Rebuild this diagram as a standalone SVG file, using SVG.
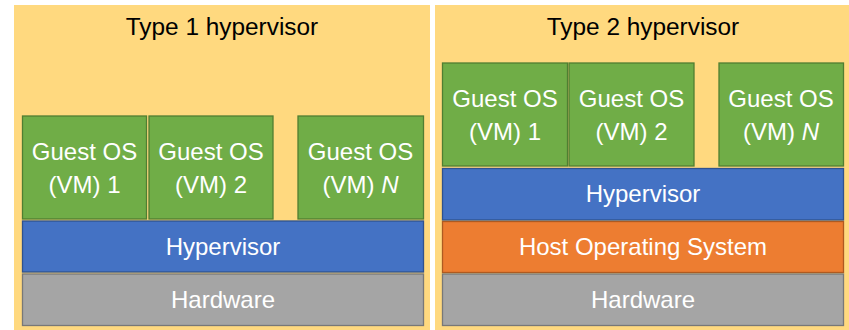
<svg xmlns="http://www.w3.org/2000/svg" width="849" height="330" viewBox="0 0 849 330">
  <style>
    text { font-family: "Liberation Sans", Arial, sans-serif; text-anchor: middle; }
    .title { font-size: 24.4px; fill: #000; }
    .lbl { font-size: 24px; fill: #fff; }
    .panel { fill: #FFD97F; }
    .guest { fill: #70AD47; stroke: #507E32; stroke-width: 1.3; }
    .hyp { fill: #4472C4; stroke: #2F528F; stroke-width: 1.3; }
    .host { fill: #ED7D31; stroke: #AE5A21; stroke-width: 1.3; }
    .hw { fill: #A5A5A5; stroke: #787878; stroke-width: 1.3; }
  </style>
  <rect width="849" height="330" fill="#fff"/>

  <!-- Type 1 panel -->
  <g id="type1">
    <rect class="panel" x="14" y="5" width="416" height="325"/>
    <text class="title" x="222" y="35">Type 1 hypervisor</text>
  </g>
  <g id="t1-guest1">
    <rect class="guest" x="22.5" y="116" width="124" height="103"/>
    <text class="lbl" x="84.5" y="160">Guest OS</text>
    <text class="lbl" x="84.5" y="193">(VM) 1</text>
  </g>
  <g id="t1-guest2">
    <rect class="guest" x="149" y="116" width="124" height="103"/>
    <text class="lbl" x="211" y="160">Guest OS</text>
    <text class="lbl" x="211" y="193">(VM) 2</text>
  </g>
  <g id="t1-guestN">
    <rect class="guest" x="298" y="116" width="125.5" height="103"/>
    <text class="lbl" x="360.5" y="160">Guest OS</text>
    <text class="lbl" x="360.5" y="193">(VM) <tspan font-style="italic">N</tspan></text>
  </g>
  <g id="t1-hypervisor">
    <rect class="hyp" x="22.5" y="221" width="401" height="51"/>
    <text class="lbl" x="223" y="255">Hypervisor</text>
  </g>
  <g id="t1-hardware">
    <rect class="hw" x="22.5" y="274" width="401" height="51.5"/>
    <text class="lbl" x="223" y="308">Hardware</text>
  </g>

  <!-- Type 2 panel -->
  <g id="type2">
    <rect class="panel" x="435" y="5" width="414" height="325"/>
    <text class="title" x="643" y="35">Type 2 hypervisor</text>
  </g>
  <g id="t2-guest1">
    <rect class="guest" x="442.5" y="63" width="125" height="103"/>
    <text class="lbl" x="505" y="107">Guest OS</text>
    <text class="lbl" x="505" y="140">(VM) 1</text>
  </g>
  <g id="t2-guest2">
    <rect class="guest" x="569" y="63" width="125" height="103"/>
    <text class="lbl" x="631.5" y="107">Guest OS</text>
    <text class="lbl" x="631.5" y="140">(VM) 2</text>
  </g>
  <g id="t2-guestN">
    <rect class="guest" x="719" y="63" width="124.5" height="103"/>
    <text class="lbl" x="781" y="107">Guest OS</text>
    <text class="lbl" x="781" y="140">(VM) <tspan font-style="italic">N</tspan></text>
  </g>
  <g id="t2-hypervisor">
    <rect class="hyp" x="442.5" y="168.5" width="401" height="51.5"/>
    <text class="lbl" x="643" y="202">Hypervisor</text>
  </g>
  <g id="t2-hostos">
    <rect class="host" x="442.5" y="221.5" width="401" height="51"/>
    <text class="lbl" x="643" y="255">Host Operating System</text>
  </g>
  <g id="t2-hardware">
    <rect class="hw" x="442.5" y="274" width="401" height="51.5"/>
    <text class="lbl" x="643" y="308">Hardware</text>
  </g>

  <g id="connectors"/>
</svg>
